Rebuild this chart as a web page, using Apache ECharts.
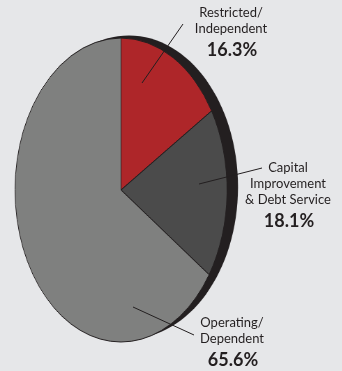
<!DOCTYPE html>
<html>
<head>
<meta charset="utf-8">
<script src="https://cdn.jsdelivr.net/npm/echarts@6/dist/echarts.min.js"></script>
<style>
  html, body { margin: 0; padding: 0; background: #e6e7e9; }
  #wrap { position: relative; width: 342px; height: 371px; overflow: hidden; }
  #pie { position: absolute; left: 0; top: 0; width: 420px; height: 371px; transform-origin: 0 0; }
  #notes { position: absolute; left: 0; top: 0; width: 342px; height: 371px; }
</style>
</head>
<body>
<div id="wrap">
  <div id="pie"></div>
  <div id="notes"></div>
</div>
<script>
// Fund shares
const categories = ['Restricted/\nIndependent', 'Capital\nImprovement\n& Debt Service', 'Operating/\nDependent'];
const shares = [16.3, 18.1, 65.6];

// Styling
const sliceColors = ['#ae2629', '#4b4b4b', '#7f807f'];
const inkColor = '#231f20';

// Elliptical face: the pie is drawn as a circle and squeezed horizontally
const CX = 121, CY = 190, RX = 106, RY = 152;
const sx = RX / RY;
document.getElementById('pie').style.transform = 'scaleX(' + sx + ')';

const pie = echarts.init(document.getElementById('pie'), null, { renderer: 'canvas' });
pie.setOption({
  animation: false,
  backgroundColor: 'transparent',
  graphic: [{
    // dark rim behind the face
    type: 'ellipse',
    z: 0,
    silent: true,
    shape: { cx: 129 / sx, cy: 187, rx: 109 / sx, ry: 151.5 },
    style: { fill: inkColor }
  }],
  series: [{
    type: 'pie',
    silent: true,
    z: 2,
    center: [CX / sx, CY],
    radius: RY,
    startAngle: 90,
    clockwise: true,
    label: { show: false },
    labelLine: { show: false },
    emphasis: { disabled: true },
    itemStyle: { borderColor: inkColor, borderWidth: 1 },
    data: categories.map((c, i) => ({
      name: c,
      value: shares[i],
      itemStyle: { color: sliceColors[i] }
    }))
  }]
});

// Labels and leader lines, drawn unsqueezed on top
const labelTops = [5, 160, 315];
const pctCenters = [50, 221, 360];
const labelX = [231, 288, 232];
const leaders = [
  [142, 83, 183, 24],
  [199, 184, 262, 168],
  [133, 307, 194, 335]
];

const notes = echarts.init(document.getElementById('notes'), null, { renderer: 'canvas' });
const g = [];
leaders.forEach(l => g.push({
  type: 'line', silent: true, z: 10,
  shape: { x1: l[0], y1: l[1], x2: l[2], y2: l[3] },
  style: { stroke: inkColor, lineWidth: 1 }
}));
categories.forEach((c, i) => {
  g.push({
    type: 'text', silent: true, z: 10,
    x: labelX[i], y: labelTops[i],
    style: {
      text: c, fill: inkColor, font: '13px Lato, "DejaVu Sans", sans-serif',
      align: 'center', verticalAlign: 'top', lineHeight: 16
    }
  });
  g.push({
    type: 'text', silent: true, z: 10,
    x: labelX[i] + 1, y: pctCenters[i],
    style: {
      text: shares[i].toFixed(1) + '%', fill: inkColor,
      font: 'bold 18px Lato, "DejaVu Sans", sans-serif',
      align: 'center', verticalAlign: 'middle'
    }
  });
});
notes.setOption({ animation: false, backgroundColor: 'transparent', graphic: g });
</script>
</body>
</html>
